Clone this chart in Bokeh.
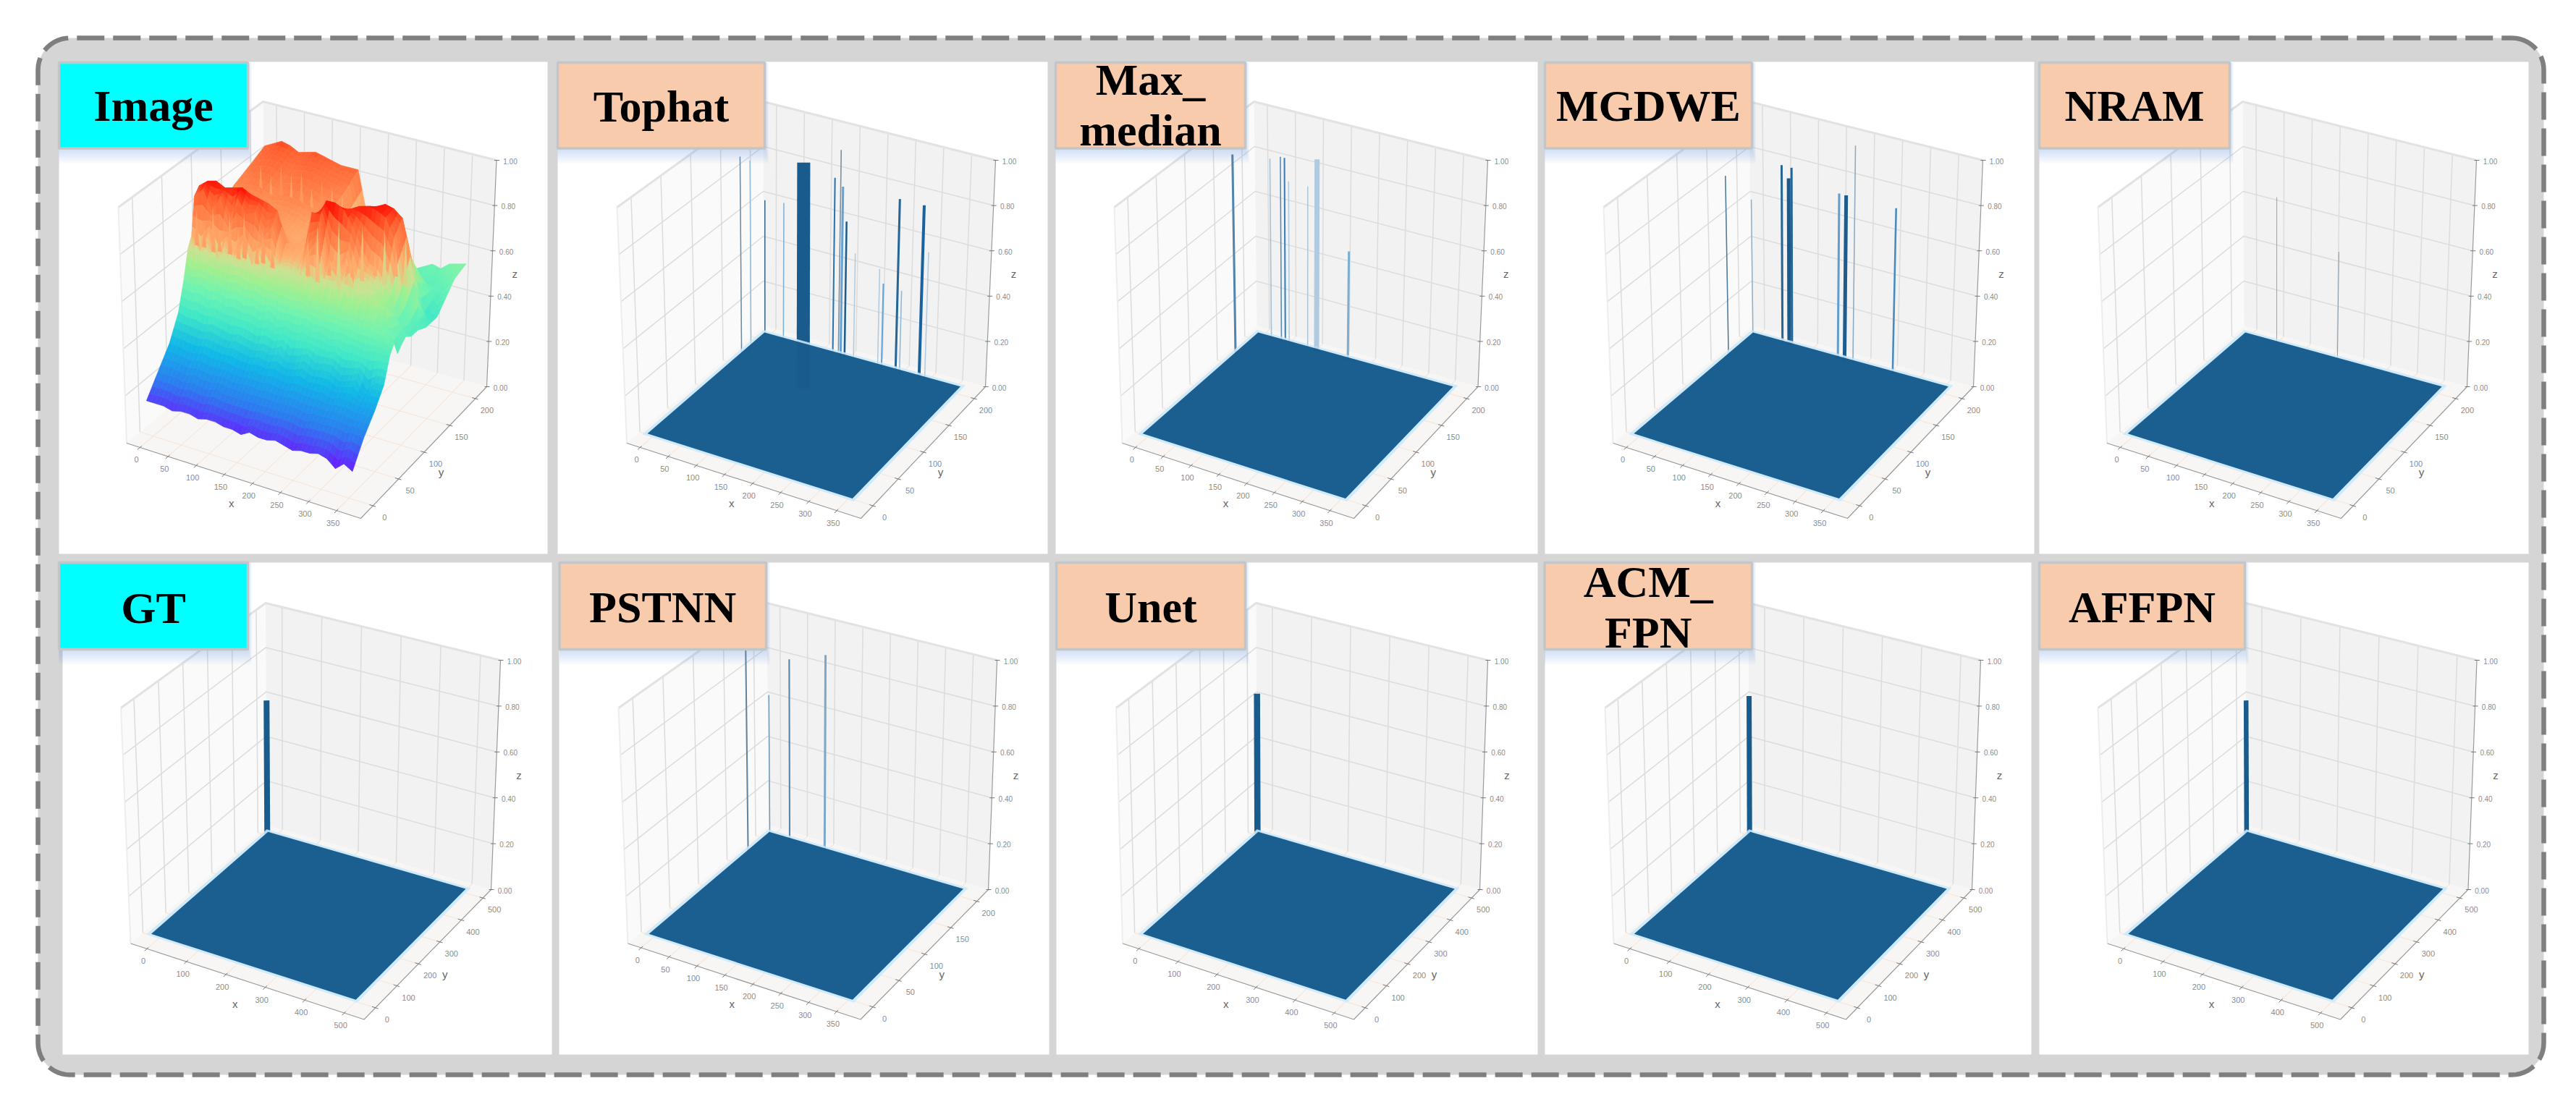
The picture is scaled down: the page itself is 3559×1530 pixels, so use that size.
import math
from bokeh.plotting import figure
from bokeh.embed import file_html
from bokeh.resources import INLINE
from bokeh.core.properties import value

# ---------- chart values ----------
X_TICKS_A = [0, 50, 100, 150, 200, 250, 300, 350]
Y_TICKS_A = [0, 50, 100, 150, 200]
X_TICKS_B = [0, 100, 200, 300, 400, 500]
Y_TICKS_B = [0, 100, 200, 300, 400, 500]
Z_TICKS = [0.0, 0.2, 0.4, 0.6, 0.8, 1.0]

# spikes: x, y, z, stroke width, colour
SPIKES_TOPHAT = [
    (3, 158, .87, 1.5, "#7C93A6"), (3, 174, .82, 1.5, "#A9CDE6"), (5, 196, .60, 1.5, "#3E6C8C"),
    (38, 196, .61, 1.5, "#8DBFE3"), (136, 134, .98, 18, "#1B5E90"), (126, 196, .78, 2, "#2F7AB5"),
    (136, 196, .91, 1.5, "#8A949C"), (140, 196, .75, 3, "#6FB0E2"), (147, 196, .60, 2.5, "#1F5F8F"),
    (163, 196, .47, 1.5, "#C9DCEB"), (206, 196, .43, 1.5, "#C9DCEB"), (213, 196, .37, 2, "#6FB0E2"),
    (238, 196, .76, 3, "#2A6A9A"), (245, 196, .36, 1.5, "#9CC8E8"), (280, 196, .76, 4, "#1B66A5"),
    (290, 196, .56, 1.5, "#C9DCEB"),
]
SPIKES_MAX = [
    (3, 158, .88, 3, "#5B8DB5"), (28, 196, .80, 1.5, "#BBD0E0"), (46, 196, .82, 1.5, "#5C93C0"),
    (53, 196, .82, 2, "#3D86C6"), (60, 196, .72, 1.5, "#C9DCEB"), (93, 196, .72, 1.5, "#C4D6E5"),
    (109, 196, .85, 7, "#C6DCEE"), (165, 196, .48, 3, "#8FBBDC"),
]
SPIKES_MGDWE = [
    (3, 156, .79, 1.5, "#557F9E"), (3, 197, .60, 1.5, "#A3BFD3"), (57, 196, .79, 3, "#2A6A9A"),
    (69, 196, .74, 5, "#1B5E90"), (74, 196, .79, 3, "#2A6A9A"), (156, 196, .73, 3, "#6FA9D6"),
    (168, 196, .73, 5, "#1F5F8F"), (183, 196, .96, 1.5, "#9CB7CC"), (254, 196, .73, 2.5, "#4F93C8"),
]
SPIKES_NRAM = [(60, 196, .65, 1, "#A8B2BA"), (168, 196, .48, 1, "#98A2AA")]
SPIKES_PSTNN = [
    (3, 162, .90, 2, "#6E8CA3"), (3, 198, .62, 1.5, "#7FA3BD"),
    (41, 196, .81, 2, "#5F8BAB"), (104, 196, .87, 3, "#8DB5D3"),
]
SPIKES_GT = [(4, 490, .60, 8, "#1B5E90")]
SPIKES_UNET = [(4, 490, .63, 8.5, "#1B5E90")]
SPIKES_ACM = [(4, 490, .62, 7, "#1B5E90")]
SPIKES_AFFPN = [(4, 490, .60, 6.5, "#1B5E90")]

# height table of the "Image" surface: rows by y-fraction, percent of z along x
SURF_ROWS_Y = [1.00, .90, .75, .65, .58, .52, .47, .43, .40, .37, .33, .28, .20, .10, .00]
SURF_Z = [
    [83, 85, 87, 86, 84, 85, 86, 85, 84, 83, 83, 83, 66, 56, 53, 50, 49, 47, 46, 48, 50, 49, 52, 53, 54],
    [80, 82, 83, 83, 81, 81, 82, 82, 81, 80, 79, 78, 62, 54, 50, 48, 47, 45, 44, 46, 47, 45, 47, 48, 52],
    [76, 77, 78, 78, 76, 76, 77, 77, 76, 75, 74, 74, 72, 70, 52, 52, 55, 62, 68, 72, 70, 62, 48, 38, 42],
    [72, 73, 74, 74, 73, 72, 73, 73, 72, 71, 70, 72, 71, 70, 68, 72, 78, 84, 88, 90, 89, 86, 70, 50, 42],
    [72, 72, 73, 73, 72, 72, 72, 72, 71, 70, 69, 71, 70, 76, 84, 86, 88, 90, 91, 90, 88, 80, 60, 46, 44],
    [74, 76, 76, 76, 75, 74, 75, 74, 73, 72, 70, 70, 69, 84, 92, 92, 90, 84, 76, 70, 68, 62, 54, 46, 44],
    [87, 90, 91, 89, 90, 91, 89, 88, 87, 85, 72, 70, 68, 88, 88, 70, 66, 72, 60, 64, 62, 58, 56, 50, 46],
    [84, 88, 80, 86, 76, 88, 82, 84, 74, 80, 66, 68, 66, 72, 78, 62, 72, 64, 74, 60, 66, 58, 60, 50, 44],
    [68, 62, 72, 60, 70, 64, 72, 62, 70, 60, 64, 62, 60, 66, 58, 66, 56, 64, 54, 62, 52, 58, 50, 52, 42],
    [64, 62, 63, 62, 61, 61, 62, 60, 60, 59, 58, 58, 57, 58, 56, 56, 55, 56, 54, 55, 53, 54, 52, 52, 48],
    [52, 51, 52, 50, 51, 49, 50, 48, 49, 47, 49, 46, 47, 46, 47, 45, 46, 44, 45, 44, 44, 43, 44, 44, 44],
    [40, 39, 39, 38, 39, 38, 37, 38, 37, 36, 37, 36, 38, 35, 36, 38, 35, 36, 36, 33, 34, 36, 30, 34, 34],
    [30, 30, 29, 29, 30, 29, 29, 29, 28, 28, 29, 28, 29, 28, 28, 29, 28, 28, 28, 27, 28, 28, 27, 27, 27],
    [22, 22, 22, 21, 22, 21, 21, 22, 21, 21, 21, 21, 21, 21, 21, 21, 21, 20, 21, 21, 21, 21, 20, 21, 20],
    [14, 14, 14, 13, 14, 14, 13, 14, 14, 13, 13, 12, 14, 13, 13, 14, 13, 12, 13, 13, 14, 13, 10, 13, 11],
]
# streaks on the steep faces of the surface: x-fraction, y-fraction, z at the foot, z at the tip
STREAKS_BACK = [
    (.04, .90, .66, .80), (.09, .90, .64, .76), (.14, .90, .68, .82), (.19, .90, .64, .79), (.24, .90, .66, .81),
    (.29, .90, .64, .75), (.34, .90, .68, .80), (.39, .90, .64, .78), (.44, .90, .62, .76),
]
STREAKS_FRONT = [
    (.02, .41, .64, .80), (.055, .41, .64, .74), (.10, .41, .63, .83), (.13, .41, .64, .71), (.18, .41, .64, .82),
    (.22, .41, .63, .76), (.25, .41, .64, .84), (.31, .41, .63, .72), (.34, .41, .64, .80), (.385, .41, .63, .75),
    (.54, .44, .62, .78), (.58, .45, .60, .84), (.625, .47, .63, .72), (.66, .49, .58, .86), (.71, .52, .62, .74),
    (.74, .55, .60, .84), (.785, .58, .62, .72), (.82, .60, .58, .82), (.865, .62, .62, .74), (.90, .64, .58, .78),
]
# colours of the "Image" surface by height
COLOR_Z = [.11, .20, .30, .40, .50, .58, .64, .68, .78, .85, .90]
COLOR_HEX = ["#6A1BFF", "#2C7CF0", "#10B8E8", "#40E8C8", "#70F4B0", "#A0F090", "#D0E090",
             "#FFB070", "#FF8048", "#FF6030", "#FF1808"]

# ---------- layout (reference pixels) ----------
BORDER = (52, 52, 3514, 1485, 44)
ROW_Y = [
    dict(L=612, F=716, R=534, Rt=221, Lt=286, Bt=140, B=450, Ft=371),
    dict(L=1303.5, F=1408.5, R=1229, Rt=912, Lt=978, Bt=833, B=1140, Ft=1063),
]
FLOOR_U = (.03, .91)
FLOOR_V = (.10, .96)
LABEL_PEACH = "#F8CBAD"
LABEL_CYAN = "#00FFFF"

PANELS = [
    dict(lines=["Image"], base=[163], fill=LABEL_CYAN, row=0, pan=(81, 756), box=(81, 342),
         xs=(174.5, 498, 672, 685.5, 163, 363, 366), kind="A", spikes=[]),
    dict(lines=["Tophat"], base=[164], fill=LABEL_PEACH, row=0, pan=(770, 1447), box=(770, 1056),
         xs=(865.5, 1189, 1361, 1375, 852, 1054, 1054), kind="A", spikes=SPIKES_TOPHAT),
    dict(lines=["Max_", "median"], base=[127, 197], fill=LABEL_PEACH, row=0, pan=(1458, 2124), box=(1458, 1720),
         xs=(1550, 1870, 2041.5, 2055, 1539, 1732, 1736), kind="A", spikes=SPIKES_MAX),
    dict(lines=["MGDWE"], base=[163], fill=LABEL_PEACH, row=0, pan=(2134, 2810), box=(2134, 2420),
         xs=(2228, 2552, 2726, 2739, 2215, 2416, 2420), kind="A", spikes=SPIKES_MGDWE),
    dict(lines=["NRAM"], base=[163], fill=LABEL_PEACH, row=0, pan=(2817, 3493), box=(2817, 3080),
         xs=(2910.5, 3234, 3408, 3421, 2898, 3098, 3100), kind="A", spikes=SPIKES_NRAM),
    dict(lines=["GT"], base=[857], fill=LABEL_CYAN, row=1, pan=(86, 762), box=(81, 342),
         xs=(180, 502.5, 678, 691, 166.5, 366.5, 368), kind="B", spikes=SPIKES_GT),
    dict(lines=["PSTNN"], base=[856], fill=LABEL_PEACH, row=1, pan=(772, 1449), box=(772.5, 1058),
         xs=(867, 1188.5, 1365, 1377, 854, 1059, 1061), kind="A", spikes=SPIKES_PSTNN),
    dict(lines=["Unet"], base=[856], fill=LABEL_PEACH, row=1, pan=(1459, 2124), box=(1459, 1720),
         xs=(1550.5, 1870, 2044, 2055, 1541.5, 1735, 1736), kind="B", spikes=SPIKES_UNET),
    dict(lines=["ACM_", "FPN"], base=[821, 891], fill=LABEL_PEACH, row=1, pan=(2134, 2806), box=(2133.5, 2420),
         xs=(2229, 2550, 2724, 2736, 2217, 2415, 2416), kind="B", spikes=SPIKES_ACM),
    dict(lines=["AFFPN"], base=[856], fill=LABEL_PEACH, row=1, pan=(2817, 3493), box=(2817, 3101),
         xs=(2911, 3233, 3409.5, 3421.5, 2898, 3102, 3103), kind="B", spikes=SPIKES_AFFPN),
]
ROW_SPAN = [(85, 765), (777, 1457)]
LABEL_SPAN = [(86, 204.5), (777, 897)]
TEXT_MID_ABOVE_BASE = 18

W, H = 3543, 1514
p = figure(width=W, height=H, x_range=(0, W), y_range=(H, 0), output_backend="svg",
           toolbar_location=None, x_axis_type=None, y_axis_type=None, min_border=0,
           background_fill_color="white", border_fill_color="white", outline_line_color=None)
p.xgrid.visible = False
p.ygrid.visible = False


def z_color(z):
    if z <= COLOR_Z[0]:
        return COLOR_HEX[0]
    if z >= COLOR_Z[-1]:
        return COLOR_HEX[-1]
    for k in range(len(COLOR_Z) - 1):
        if COLOR_Z[k] <= z <= COLOR_Z[k + 1]:
            t = (z - COLOR_Z[k]) / (COLOR_Z[k + 1] - COLOR_Z[k])
            a, b = COLOR_HEX[k], COLOR_HEX[k + 1]
            ch = [int(int(a[i:i + 2], 16) * (1 - t) + int(b[i:i + 2], 16) * t) for i in (1, 3, 5)]
            return "#%02x%02x%02x" % tuple(ch)


def make_box(pn):
    xs, ys = pn["xs"], ROW_Y[pn["row"]]
    L, F, R, Rt, Lt, Bt, B = xs
    return dict(L=(L, ys["L"]), F=(F, ys["F"]), R=(R, ys["R"]), B=(B, ys["B"]),
                Lt=(Lt, ys["Lt"]), Ft=(F, ys["Ft"]), Rt=(Rt, ys["Rt"]), Bt=(Bt, ys["Bt"]))


def proj(c, u, v, w):
    def bil(a, b, d, e):
        x0 = a[0] + (b[0] - a[0]) * u
        y0 = a[1] + (b[1] - a[1]) * u
        x1 = d[0] + (e[0] - d[0]) * u
        y1 = d[1] + (e[1] - d[1]) * u
        return x0 + (x1 - x0) * v, y0 + (y1 - y0) * v
    fx, fy = bil(c["L"], c["F"], c["B"], c["R"])
    tx, ty = bil(c["Lt"], c["Ft"], c["Bt"], c["Rt"])
    return fx + (tx - fx) * w, fy + (ty - fy) * w


def poly(c, pts):
    q = [proj(c, *t) for t in pts]
    return [a[0] for a in q], [a[1] for a in q]


def rounded(x0, y0, x1, y1, r):
    xs, ys = [], []
    for cx, cy, a0 in [(x1 - r, y0 + r, -90), (x1 - r, y1 - r, 0), (x0 + r, y1 - r, 90), (x0 + r, y0 + r, 180)]:
        for k in range(13):
            a = math.radians(a0 + 7.5 * k)
            xs.append(cx + r * math.cos(a))
            ys.append(cy + r * math.sin(a))
    xs.append(xs[0])
    ys.append(ys[0])
    return xs, ys


fx, fy = rounded(*BORDER)
p.patch(fx, fy, fill_color="#D5D5D5", line_color=None)
p.line(fx, fy, line_color="#7F7F7F", line_width=6.5, line_dash="38 12")


def tick_u(kind, x):
    return .057 + .0024 * x if kind == "A" else .07 + .00169 * x


def tick_v(kind, y):
    return .096 + .00407 * y if kind == "A" else .09 + .00169 * y


U = lambda f: FLOOR_U[0] + (FLOOR_U[1] - FLOOR_U[0]) * f
V = lambda f: FLOOR_V[0] + (FLOOR_V[1] - FLOOR_V[0]) * f


def draw_surface(c, rows):
    qx, qy, qc = [], [], []
    ncol = len(SURF_Z[0])
    SUBR, SUBC = 4, 2

    def zat(j, i, dj, di):
        z00, z01 = SURF_Z[j][i], SURF_Z[j][i + 1]
        z10, z11 = SURF_Z[j + 1][i], SURF_Z[j + 1][i + 1]
        return ((z00 * (1 - di) + z01 * di) * (1 - dj) + (z10 * (1 - di) + z11 * di) * dj) / 100
    for j in rows:
        for sj in range(SUBR):
            dj0, dj1 = sj / SUBR, (sj + 1) / SUBR
            yy0 = SURF_ROWS_Y[j] + (SURF_ROWS_Y[j + 1] - SURF_ROWS_Y[j]) * dj0
            yy1 = SURF_ROWS_Y[j] + (SURF_ROWS_Y[j + 1] - SURF_ROWS_Y[j]) * dj1
            for i in range(ncol - 1):
                for si in range(SUBC):
                    di0, di1 = si / SUBC, (si + 1) / SUBC
                    f0 = (i + di0) / (ncol - 1)
                    f1 = (i + di1) / (ncol - 1)
                    pts = [(U(f0), V(yy0), zat(j, i, dj0, di0)), (U(f1), V(yy0), zat(j, i, dj0, di1)),
                           (U(f1), V(yy1), zat(j, i, dj1, di1)), (U(f0), V(yy1), zat(j, i, dj1, di0))]
                    a, bb = poly(c, pts)
                    qx.append(a)
                    qy.append(bb)
                    qc.append(z_color(sum(q[2] for q in pts) / 4))
    p.patches(qx, qy, fill_color=qc, line_color=qc, line_width=.6)


def draw_streaks(c, streaks):
    sx, sy, sc = [], [], []
    half = .011
    for xf, yf, zb, zt in streaks:
        a, bb = poly(c, [(U(xf - half), V(yf), zb), (U(xf + half), V(yf), zb), (U(xf), V(yf), zt)])
        sx.append(a)
        sy.append(bb)
        sc.append(z_color(zb + .07))
    p.patches(sx, sy, fill_color=sc, line_color=None)


FONT_TICK = value("Liberation Sans")
for pn in PANELS:
    c = make_box(pn)
    kind = pn["kind"]
    l, r = pn["pan"]
    t, b = ROW_SPAN[pn["row"]]
    p.quad(left=[l], right=[r], top=[t], bottom=[b], fill_color="white", line_color=None)

    a, bb = poly(c, [(0, 0, 0), (0, 0, 1), (0, 1, 1), (0, 1, 0)])
    p.patch(a, bb, fill_color="#FAFAFA", line_color=None)
    a, bb = poly(c, [(0, 1, 0), (0, 1, 1), (1, 1, 1), (1, 1, 0)])
    p.patch(a, bb, fill_color="#F2F2F2", line_color=None)
    a, bb = poly(c, [(0, 0, 0), (1, 0, 0), (1, 1, 0), (0, 1, 0)])
    p.patch(a, bb, fill_color="#F8F6F4", line_color=None)

    xt = X_TICKS_A if kind == "A" else X_TICKS_B
    yt = Y_TICKS_A if kind == "A" else Y_TICKS_B

    gx, gy = [], []
    for x in xt:
        u = tick_u(kind, x)
        a, bb = poly(c, [(u, 1, 1), (u, 1, 0)])
        gx.append(a); gy.append(bb)
    for y in yt:
        v = tick_v(kind, y)
        a, bb = poly(c, [(0, v, 1), (0, v, 0)])
        gx.append(a); gy.append(bb)
    for z in Z_TICKS[1:-1]:
        a, bb = poly(c, [(0, 0, z), (0, 1, z), (1, 1, z)])
        gx.append(a); gy.append(bb)
    p.multi_line(gx, gy, line_color="#DCDCDC", line_width=1.5)

    gx, gy = [], []
    for x in xt:
        u = tick_u(kind, x)
        a, bb = poly(c, [(u, 0, 0), (u, 1, 0)])
        gx.append(a); gy.append(bb)
    for y in yt:
        v = tick_v(kind, y)
        a, bb = poly(c, [(0, v, 0), (1, v, 0)])
        gx.append(a); gy.append(bb)
    p.multi_line(gx, gy, line_color="#F6E6DA", line_width=1.2)

    a, bb = poly(c, [(0, 0, 1), (0, 1, 1), (1, 1, 1)])
    p.line(a, bb, line_color="#E2E2E2", line_width=3)
    a, bb = poly(c, [(0, 0, 0), (0, 0, 1)])
    p.line(a, bb, line_color="#EDEDED", line_width=2)

    a, bb = poly(c, [(0, 0, 0), (1, 0, 0), (1, 1, 0), (1, 1, 1)])
    p.line(a, bb, line_color="#9A9A9A", line_width=1.2)

    mx, my, tx, ty, ts = [], [], [], [], []
    for x in xt:
        u = tick_u(kind, x)
        a, bb = poly(c, [(u, -.018, 0), (u, .012, 0)])
        mx.append(a); my.append(bb)
        q = proj(c, u, 0, 0)
        tx.append(q[0] - 5); ty.append(q[1] + 17); ts.append(str(x))
    p.text(tx, ty, text=ts, text_font=FONT_TICK, text_font_size="11px", text_color="#8C8C8C",
           text_align="center", text_baseline="middle")
    tx, ty, ts = [], [], []
    for y in yt:
        v = tick_v(kind, y)
        a, bb = poly(c, [(1.012, v, 0), (.985, v, 0)])
        mx.append(a); my.append(bb)
        q = proj(c, 1, v, 0)
        tx.append(q[0] + 16); ty.append(q[1] + 16); ts.append(str(y))
    p.text(tx, ty, text=ts, text_font=FONT_TICK, text_font_size="11px", text_color="#8C8C8C",
           text_align="center", text_baseline="middle")
    tx, ty, ts = [], [], []
    for z in Z_TICKS:
        q = proj(c, 1, 1, z)
        mx.append([q[0] - 3, q[0] + 4]); my.append([q[1], q[1]])
        tx.append(q[0] + 19); ty.append(q[1] + 1); ts.append("%.2f" % z)
    p.multi_line(mx, my, line_color="#777777", line_width=1)
    p.text(tx, ty, text=ts, text_font=FONT_TICK, text_font_size="10px", text_color="#8C8C8C",
           text_align="center", text_baseline="middle")

    ql = proj(c, .5, 0, 0)
    qy = proj(c, 1, .5, 0)
    qz = proj(c, 1, 1, .5)
    p.text([ql[0] - 17, qy[0] + 24, qz[0] + 32], [ql[1] + 31, qy[1] + 27, qz[1]], text=["x", "y", "z"],
           text_font=value("Liberation Sans"), text_font_size="15px", text_color="#666666",
           text_align="center", text_baseline="middle")

    xmax, ymax = (350.0, 200.0) if kind == "A" else (500.0, 500.0)
    fu = lambda x: U(x / xmax)
    fv = lambda y: V(y / ymax)

    if pn["lines"][0] == "Image":
        draw_surface(c, range(0, 2))
        draw_streaks(c, STREAKS_BACK)
        draw_surface(c, range(2, len(SURF_ROWS_Y) - 1))
        draw_streaks(c, STREAKS_FRONT)
    else:
        for sp in pn["spikes"]:
            a, bb = poly(c, [(fu(sp[0]), fv(sp[1]), 0), (fu(sp[0]), fv(sp[1]), sp[2])])
            p.line(a, bb, line_color=sp[4], line_width=sp[3], line_cap="butt")
        hu, hv = .014, .014
        a, bb = poly(c, [(FLOOR_U[0] - hu, FLOOR_V[0] - hv, 0), (FLOOR_U[1] + hu, FLOOR_V[0] - hv, 0),
                         (FLOOR_U[1] + hu, FLOOR_V[1] + hv, 0), (FLOOR_U[0] - hu, FLOOR_V[1] + hv, 0)])
        p.patch(a, bb, fill_color="#CFEAFB", line_color=None)
        a, bb = poly(c, [(FLOOR_U[0], FLOOR_V[0], 0), (FLOOR_U[1], FLOOR_V[0], 0),
                         (FLOOR_U[1], FLOOR_V[1], 0), (FLOOR_U[0], FLOOR_V[1], 0)])
        p.patch(a, bb, fill_color="#1B5E90", line_color=None)
        for sp in pn["spikes"]:
            a, bb = poly(c, [(fu(sp[0]), fv(sp[1]), 0), (fu(sp[0]), fv(sp[1]), sp[2])])
            p.line(a, bb, line_color="#0F4A78", line_width=sp[3], line_alpha=.12, line_cap="butt")

    bl, br = pn["box"]
    bt, bm = LABEL_SPAN[pn["row"]]
    for k in range(1, 9):
        p.quad(left=[bl], right=[br + k * .7], top=[bt], bottom=[bm + k * 2.6],
               fill_color="#5B9BD5", fill_alpha=.035, line_color=None)
    p.quad(left=[bl], right=[br], top=[bt], bottom=[bm], fill_color=pn["fill"],
           line_color="#C2C6C8", line_width=3.5)
    cx = (bl + br) / 2
    p.text([cx] * len(pn["lines"]), [y - TEXT_MID_ABOVE_BASE for y in pn["base"]], text=pn["lines"],
           text_font=value("Liberation Serif"), text_font_style="bold", text_font_size="62px",
           text_color="black", text_align="center", text_baseline="middle")

open("out.html", "w").write(file_html(p, INLINE))
